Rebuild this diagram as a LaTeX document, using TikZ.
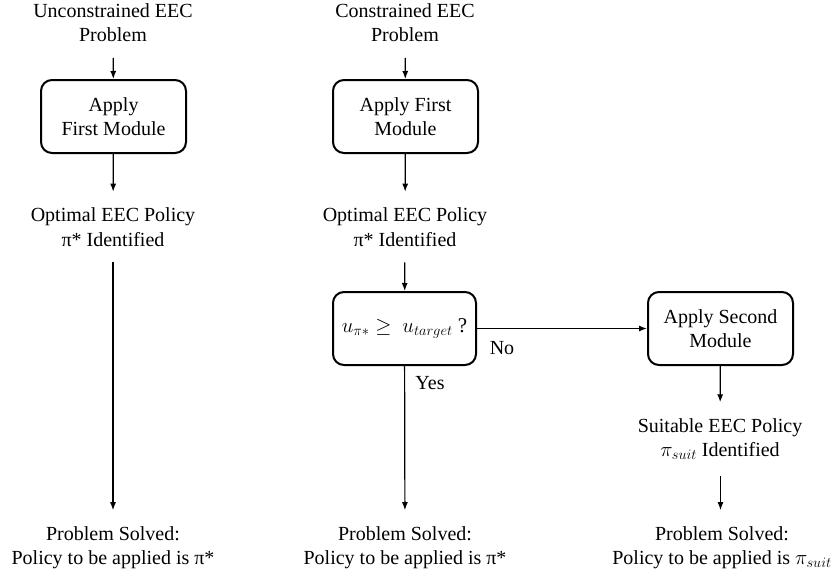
\documentclass[tikz,border=0pt]{standalone}
\usepackage{fontspec}
\setmainfont{Liberation Serif}
\usetikzlibrary{arrows.meta}

\begin{document}
\begin{tikzpicture}[x=1pt, y=-1pt,
  txt/.style={align=center, font=\fontsize{20}{24.5}\selectfont, inner sep=0pt, outer sep=16pt},
  modbox/.style={draw, line width=2pt, rounded corners=11pt, minimum width=145pt,
    minimum height=73pt, align=center, font=\fontsize{20}{24.5}\selectfont, inner sep=0pt},
  flow/.style={line width=1.2pt, -{Latex[length=8pt, width=6pt]}},
  lbl/.style={font=\fontsize{20}{24}\selectfont, inner sep=0pt}
]
\useasboundingbox (0,0) rectangle (835,578);

% left column: unconstrained problem
\node[txt] (u0) at (113,22.5) {Unconstrained EEC\\Problem};
\node[modbox] (u1) at (113.5,116.5) {Apply\\First Module};
\node[txt] (u2) at (113,227) {Optimal EEC Policy\\π* Identified};
\node[txt] (u3) at (113,547.5) {Problem Solved:\\Policy to be applied is π*};

% middle column: constrained problem
\node[txt] (c0) at (405,22.5) {Constrained EEC\\Problem};
\node[modbox] (c1) at (405.5,116.5) {Apply First\\Module};
\node[txt] (c2) at (405,227) {Optimal EEC Policy\\π* Identified};
\node[modbox, minimum width=143pt, font=\fontsize{21}{24}\selectfont] (c3) at (404.5,328.5)
  {$u_{\pi*} \geq\ u_{target}$ ?};
\node[txt] (c4) at (405,547.5) {Problem Solved:\\Policy to be applied is π*};

% right column: second module
\node[modbox] (s1) at (720.5,328.5) {Apply Second\\Module};
\node[txt] (s2) at (720,439) {Suitable EEC Policy\\{\fontsize{21}{24}\selectfont$\pi_{suit}$} Identified};
\node[txt] (s3) at (722,547.5) {Problem Solved:\\Policy to be applied is {\fontsize{21}{24}\selectfont$\pi_{suit}$}};

% connectors
\draw[flow] (u0) -- (u1);
\draw[flow] (u1) -- (u2);
\draw[flow] (u2) -- (u3);

\draw[flow] (c0) -- (c1);
\draw[flow] (c1) -- (c2);
\draw[flow] (c2) -- (c3);
\draw[flow] (c3) -- (c4);
\draw[flow] (c3) -- (s1);

\draw[flow] (s1) -- (s2);
\draw[flow] (s2.south -| s1) -- (s3.north -| s1);

% branch labels
\node[lbl] (no) at (502,348) {No};
\node[lbl] (yes) at (430,383) {Yes};
\end{tikzpicture}
\end{document}
